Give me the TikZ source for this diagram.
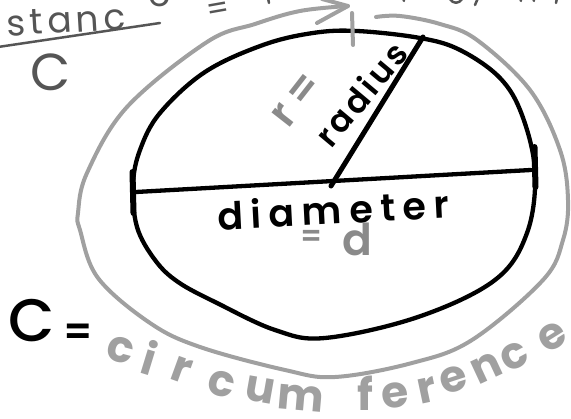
\documentclass[tikz,border=0pt]{standalone}
\usepackage{fontspec}
\newfontfamily\hand{Poppins}
\IfFontExistsTF{Poppins SemiBold}{\newfontfamily\handsb{Poppins SemiBold}}{\newfontfamily\handsb{Poppins}}
\IfFontExistsTF{Poppins Medium}{\newfontfamily\handmd{Poppins Medium}}{\newfontfamily\handmd{Poppins}}
\definecolor{pale}{HTML}{A0A0A0}
\definecolor{mid}{HTML}{8A8A8A}
\definecolor{dark}{HTML}{555555}
\begin{document}
\begin{tikzpicture}[x=1pt,y=-1pt, line cap=round, line join=round,
  blackline/.style={draw=black, line width=4.3pt},
  grayline/.style={draw=pale, line width=4pt},
  darkline/.style={draw=dark, line width=2.5pt},
  handtext/.style={inner sep=0pt, outer sep=0pt},
]
\useasboundingbox (0,0) rectangle (571,419);
\clip (0,0) rectangle (571,419);

% black circle
\draw[blackline] plot[smooth cycle, tension=0.6] coordinates {(133,185) (140,150) (160,113) (205,72) (263,45) (313,33) (357,31) (420,38) (460,50) (500,78) (522,115) (535,172) (527,233) (495,280) (418,317) (325,338) (275,330) (217,303) (178,282) (155,260) (137,227)};

% gray outer circle with arrow
\coordinate (tip) at (348,6);
\coordinate (barbup) at (322,-1);
\coordinate (barblo) at (317,23);
\draw[grayline] plot[smooth, tension=0.6] coordinates {(376,17) (400,16) (440,24) (477,40) (530,90) (560,150) (568,200) (563,240) (543,280) (472,340) (412,363) (335,377) (285,370) (200,347) (150,323) (98,278) (80,230) (78,213) (87,173) (127,107) (207,42) (255,24) (300,11) (348,6)};
\draw[grayline] (barbup) -- (tip) -- (barblo);
\coordinate (gt1) at (352,13);
\coordinate (gt2) at (353,45);
\draw[grayline] (gt1) -- (gt2);

% diameter and radius
\coordinate (dl) at (136,192);
\coordinate (dr) at (531,170);
\coordinate (ctr) at (331,186);
\coordinate (rt) at (423,37);
\draw[blackline] (dl) -- (dr);
\draw[blackline, line width=5pt] (ctr) -- (rt);
\coordinate (tl1) at (132.5,172);
\coordinate (tl2) at (133.5,213);
\coordinate (tr1) at (534.5,147);
\coordinate (tr2) at (535.5,187);
\draw[blackline, line width=6pt] (tl1) -- (tl2);
\draw[blackline, line width=6pt] (tr1) -- (tr2);

% labels
\node[handtext, text=black, anchor=base, rotate=3] (diam) at (334,224)
  {\handsb\fontsize{38}{38}\selectfont\addfontfeature{LetterSpace=20}diameter};
\node[handtext, text=mid] (eqd) at (312,238) {\handsb\fontsize{30}{30}\selectfont =};
\node[handtext, text=mid, anchor=base] (dd) at (357,256) {\handsb\fontsize{44}{44}\selectfont d};

\node[handtext, text=black, rotate=50] (rad) at (361,94)
  {\handsb\fontsize{33}{33}\selectfont\addfontfeature{LetterSpace=10}radius};
\node[handtext, text=mid, rotate=52] (req) at (297,100)
  {\handsb\fontsize{42}{42}\selectfont\addfontfeature{LetterSpace=22}r=};

\node[handtext, text=black] (cc) at (32,321) {\handmd\fontsize{60}{60}\selectfont C};
\node[handtext, text=black] (ceq) at (78,335) {\handsb\fontsize{40}{40}\selectfont =};

% "circumference" along the bottom
\foreach \ch/\px/\py/\rr [count=\k] in {c/121/350/-15, i/150/358/-17, r/182/370/-20, c/222/384/-15, u/260/390/-10, m/301/398/-5, f/365/393/0, e/395/395/8, r/427/390/12, e/454/380/18, n/487/368/25, c/514/356/28, e/552/337/32}
  \node[handtext, text=pale, rotate=\rr] (circ\k) at (\px,\py) {\hand\bfseries\fontsize{44}{44}\selectfont \ch};

% top-left fraction
\node[handtext, text=dark, anchor=base east, rotate=3.5] (dist) at (126,29)
  {\hand\fontsize{36}{36}\selectfont\addfontfeature{LetterSpace=12}distanc};
\node[handtext, text=dark, anchor=base] (diste) at (160,7) {\hand\fontsize{36}{36}\selectfont e};
\coordinate (ul1) at (-2,47);
\coordinate (ul2) at (160,23);
\draw[darkline] (ul1) -- (ul2);
\node[handtext, text=dark] (cbot) at (51,72) {\hand\fontsize{52}{52}\selectfont C};
\node[handtext, text=dark, rotate=10] (topeq) at (218,11) {\hand\fontsize{32}{32}\selectfont =};
\draw[darkline] (268,-2) -- (269,3);

% cut-off fragments at the top right
\draw[darkline] (403,-2) -- (404,1);
\draw[darkline] (450,-1) .. controls (453,4) and (459,4) .. (462,-1);
\draw[darkline] (478,-2) -- (475,5);
\draw[darkline] (520,-2) -- (521,1);
\draw[darkline] (533,-2) -- (534,1);
\draw[darkline] (557,-2) -- (556,3);
\end{tikzpicture}
\end{document}
